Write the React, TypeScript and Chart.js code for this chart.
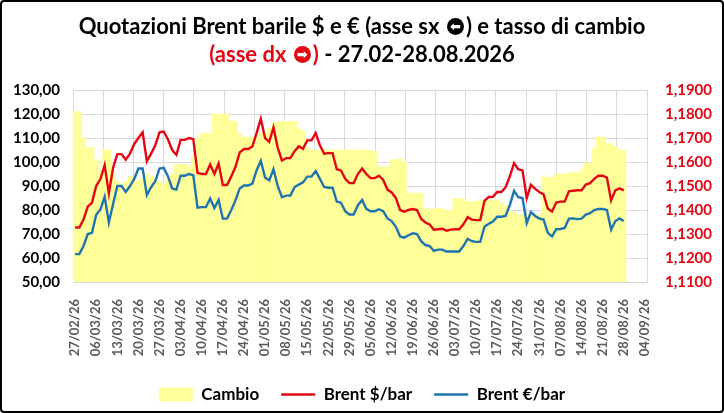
import { useEffect, useRef } from 'react';
import { Chart, registerables } from 'chart.js';

Chart.register(...registerables);

// etichette settimanali dell'asse x
const weekLabels = [
  '27/02/26', '06/03/26', '13/03/26', '20/03/26', '27/03/26', '03/04/26', '10/04/26',
  '17/04/26', '24/04/26', '01/05/26', '08/05/26', '15/05/26', '22/05/26', '29/05/26',
  '05/06/26', '12/06/26', '19/06/26', '26/06/26', '03/07/26', '10/07/26', '17/07/26',
  '24/07/26', '31/07/26', '07/08/26', '14/08/26', '21/08/26', '28/08/26', '04/09/26',
];

// tasso di cambio EUR/USD (asse dx)
const cambio = [
  1.181, 1.181, 1.170, 1.166, 1.166, 1.161, 1.156, 1.165, 1.165, 1.155,
  1.152, 1.151, 1.152, 1.154, 1.153, 1.152, 1.153, 1.155, 1.154, 1.153,
  1.152, 1.151, 1.153, 1.155, 1.159, 1.159, 1.159, 1.158, 1.162, 1.170,
  1.172, 1.172, 1.172, 1.180, 1.180, 1.180, 1.1798, 1.1771, 1.1771, 1.1717,
  1.1704, 1.1704, 1.1704, 1.170, 1.172, 1.172, 1.174, 1.176, 1.1768, 1.1768,
  1.1768, 1.1768, 1.1768, 1.1738, 1.1731, 1.166, 1.165, 1.165, 1.165, 1.165,
  1.165, 1.165, 1.165, 1.165, 1.165, 1.165, 1.165, 1.165, 1.165, 1.165,
  1.1645, 1.1645, 1.158, 1.158, 1.158, 1.161, 1.161, 1.1613, 1.160, 1.147,
  1.147, 1.147, 1.1469, 1.1405, 1.1405, 1.1405, 1.1405, 1.1405, 1.1398, 1.140,
  1.1448, 1.1448, 1.1445, 1.1435, 1.1435, 1.1435, 1.1438, 1.144, 1.144, 1.1442,
  1.1442, 1.143, 1.142, 1.140, 1.139, 1.138, 1.138, 1.1381, 1.138, 1.138,
  1.138, 1.1543, 1.1535, 1.1535, 1.155, 1.155, 1.155, 1.1556, 1.1556, 1.1556,
  1.157, 1.1596, 1.1596, 1.1657, 1.1704, 1.1704, 1.1677, 1.1677, 1.1664, 1.165,
  1.165,
];

// Brent $/barile (asse sx)
const brentUsd = [
  72.7, 72.7, 76, 81.5, 83, 90, 92.9, 98.7, 86.9, 97.6,
  103.3, 103.3, 101, 103.5, 107.5, 110, 112.4, 100.3, 103.5, 107,
  112.4, 112.7, 109.5, 105, 103, 109.2, 109.2, 110, 109.5, 95.5,
  95, 95, 99, 95, 99.4, 90.4, 90.4, 94, 98, 104,
  105.4, 105.4, 106.5, 112, 118, 110, 108.4, 114.4, 106, 100.6,
  101.6, 101.6, 104.5, 106.5, 105.5, 109, 109, 112, 107, 103.5,
  103.7, 103.7, 97, 96.5, 93, 91.2, 91.2, 95, 97.3, 95,
  93.3, 93.3, 94.3, 92.5, 88.5, 87.3, 85, 80, 79.3, 80,
  80.4, 80, 76.3, 74.8, 74, 71.8, 72, 72.2, 71.4, 71.8,
  72, 72, 74, 77, 76, 75.8, 75.8, 83.8, 85.4, 85.5,
  87.5, 87.5, 89.5, 94, 99.5, 97, 96.5, 85, 90.5, 88.8,
  87.5, 86.5, 80.5, 79.4, 83.1, 83.5, 83.5, 87.8, 88, 88.2,
  88.2, 90.6, 91.2, 93, 94.3, 94.3, 93.5, 84, 88.2, 89,
  88.2,
];

// Brent €/barile (asse sx)
const brentEur = [
  61.6, 61.6, 65, 70, 70.5, 78, 80.2, 85.5, 74.8, 82.5,
  90, 90, 87.5, 90, 92.9, 97.3, 97.3, 86.2, 89.5, 92,
  97.3, 97.6, 94, 89, 88.5, 94.3, 94.3, 95, 94.5, 81,
  81.2, 81.2, 84.8, 80.8, 84.2, 76.4, 76.4, 80, 84, 89,
  90.2, 90.2, 91, 96.5, 100.5, 93.5, 92.3, 97, 90, 85.3,
  86, 86, 89.5, 90.6, 91.5, 93.9, 93.9, 96.3, 93, 89.6,
  89.3, 89.3, 83.5, 83, 79.5, 78.1, 78.1, 82, 84.2, 80.5,
  79.5, 79.5, 80.3, 79.5, 76.5, 75.4, 73, 69, 68.5, 69.5,
  70.3, 70, 67, 65.4, 65, 63, 63.5, 63.5, 62.7, 62.7,
  62.7, 62.7, 65, 68, 67, 66.7, 66.7, 73, 74.3, 75.2,
  77.2, 77.2, 77.5, 82, 88, 85.3, 85, 74.5, 79.1, 77.5,
  76.4, 76, 70.5, 69, 72, 72.1, 72.5, 76.4, 76.5, 76.2,
  76.4, 78.1, 78.7, 80, 80.4, 80.4, 80, 71.8, 75.4, 76.5,
  75.4,
];

// giorni lavorativi dal 27/02/26 al 04/09/26
const days: string[] = [];
const d = new Date(2026, 1, 27);
while (days.length < weekLabels.length * 5 - 4) {
  if (d.getDay() !== 0 && d.getDay() !== 6) {
    const dd = String(d.getDate()).padStart(2, '0');
    const mm = String(d.getMonth() + 1).padStart(2, '0');
    days.push(`${dd}/${mm}/${String(d.getFullYear()).slice(2)}`);
  }
  d.setDate(d.getDate() + 1);
}

const FONT = 'Lato, "Open Sans", sans-serif';
const GRID = '#d9d9d9';
const RED = '#e30613';
const BLUE = '#1f74b0';
const YELLOW = 'rgb(255, 255, 153)';

// cerchio pieno con freccia bianca, come nel titolo originale
const CircleArrow = ({ arrow, color }: { arrow: string; color: string }) => (
  <span
    style={{
      display: 'inline-flex',
      alignItems: 'center',
      justifyContent: 'center',
      width: 17,
      height: 17,
      borderRadius: '50%',
      background: color,
      color: '#fff',
      fontSize: 13,
      lineHeight: 1,
      verticalAlign: 'middle',
      position: 'relative',
      top: -2,
      fontFamily: '"DejaVu Sans", sans-serif',
      margin: '0 2px',
    }}
  >
    {arrow}
  </span>
);

const App = () => {
  const chartRef = useRef<HTMLCanvasElement | null>(null);

  useEffect(() => {
    document.body.style.margin = '0';
    if (!chartRef.current) return;
    const ctx = chartRef.current.getContext('2d');
    if (!ctx) return;

    const chartInstance = new Chart(ctx, {
      data: {
        labels: days,
        datasets: [
          {
            type: 'bar',
            label: 'Cambio',
            data: cambio,
            yAxisID: 'y1',
            backgroundColor: YELLOW,
            borderWidth: 0,
            barPercentage: 1,
            categoryPercentage: 1,
            pointStyle: 'rect',
            order: 2,
          },
          {
            type: 'line',
            label: 'Brent $/bar',
            data: brentUsd,
            yAxisID: 'y',
            borderColor: RED,
            backgroundColor: RED,
            borderWidth: 2.4,
            pointRadius: 0,
            pointBorderWidth: 2.4,
            pointStyle: 'line',
            tension: 0,
            order: 1,
          },
          {
            type: 'line',
            label: 'Brent €/bar',
            data: brentEur,
            yAxisID: 'y',
            borderColor: BLUE,
            backgroundColor: BLUE,
            borderWidth: 2.4,
            pointRadius: 0,
            pointBorderWidth: 2.4,
            pointStyle: 'line',
            tension: 0,
            order: 0,
          },
        ],
      },
      options: {
        animation: false,
        responsive: false,
        maintainAspectRatio: false,
        layout: { padding: { top: 90, left: 0, right: 0, bottom: 0 } },
        plugins: {
          tooltip: { enabled: false },
          legend: {
            position: 'bottom',
            labels: {
              usePointStyle: true,
              pointStyleWidth: 34,
              boxHeight: 14,
              padding: 22,
              color: '#000',
              font: { family: FONT, size: 17, weight: 'bold' },
              sort: (a, b) => (a.datasetIndex ?? 0) - (b.datasetIndex ?? 0),
            },
          },
        },
        scales: {
          x: {
            type: 'category',
            offset: true,
            grid: { display: false },
            border: { color: GRID },
            ticks: {
              autoSkip: false,
              minRotation: 90,
              maxRotation: 90,
              padding: 9,
              color: '#595959',
              font: { family: FONT, size: 13, weight: 'bold' },
              callback: (_v, i) => (i % 5 === 0 ? weekLabels[i / 5] : ''),
            },
            afterFit: (s) => {
              s.height = 82;
            },
          },
          xg: {
            type: 'linear',
            position: 'top',
            min: 0,
            max: 19,
            ticks: { display: false, stepSize: 1 },
            grid: { color: GRID, drawTicks: false },
            border: { display: false },
            afterFit: (s) => {
              s.height = 0;
            },
          },
          y: {
            position: 'left',
            min: 50,
            max: 130,
            ticks: {
              stepSize: 10,
              padding: 13,
              color: '#000',
              font: { family: FONT, size: 15, weight: 'bold' },
              callback: (v) => Number(v).toFixed(2).replace('.', ','),
            },
            grid: { color: GRID, drawTicks: false },
            border: { display: false },
            afterFit: (s) => {
              s.width = 73;
            },
          },
          y1: {
            position: 'right',
            min: 1.11,
            max: 1.19,
            ticks: {
              stepSize: 0.01,
              padding: 18,
              color: RED,
              font: { family: FONT, size: 15, weight: 'bold' },
              callback: (v) => Number(v).toFixed(4).replace('.', ','),
            },
            grid: { drawOnChartArea: false, drawTicks: false },
            border: { display: false },
            afterFit: (s) => {
              s.width = 77;
            },
          },
        },
      },
    });

    return () => {
      chartInstance.destroy();
    };
  }, []);

  return (
    <div style={{ position: 'relative', width: 724, height: 413, background: '#fff' }}>
      <canvas ref={chartRef} width={724} height={413}></canvas>
      <div
        style={{
          position: 'absolute',
          top: 12,
          left: 0,
          width: '100%',
          textAlign: 'center',
          fontFamily: FONT,
          fontWeight: 'bold',
          fontSize: 22,
          lineHeight: '28px',
          color: '#000',
        }}
      >
        <div>
          Quotazioni Brent barile $ e € (asse sx <CircleArrow arrow="⬅" color="#000" />) e tasso di cambio
        </div>
        <div>
          <span style={{ color: RED }}>
            (asse dx <CircleArrow arrow="➡" color={RED} />)
          </span>{' '}
          - 27.02-28.08.2026
        </div>
      </div>
      <div
        style={{
          position: 'absolute',
          inset: 0,
          border: '2px solid #000',
          borderRadius: 4,
          pointerEvents: 'none',
        }}
      ></div>
    </div>
  );
};

export default App;
